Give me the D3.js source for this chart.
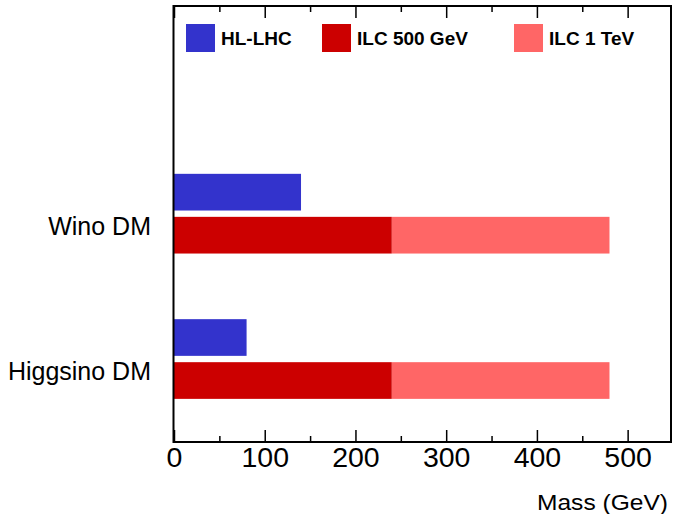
<!DOCTYPE html>
<html><head><meta charset="utf-8">
<script src="https://cdn.jsdelivr.net/npm/d3@7"></script>
<style>body{margin:0;background:#fff}svg{display:block}text{font-family:"Liberation Sans",Arial,Helvetica,sans-serif}</style>
</head><body><div id="chart"></div>
<script>
const categories = ["Wino DM", "Higgsino DM"];
const hlLhc = [140, 80];
const ilc500 = [240, 240];
const ilc1TeV = [480, 480];
const seriesNames = ["HL-LHC", "ILC 500 GeV", "ILC 1 TeV"];
const colors = ["#3333cc", "#cc0000", "#ff6666"];
const majorTicks = [0, 100, 200, 300, 400, 500];
const minorTicks = [50, 150, 250, 350, 450];
const xTitle = "Mass (GeV)";

const W = 673, H = 514;
const L = 174, R = 673, T = 6, B = 442;
const svg = d3.select("#chart").append("svg").attr("width", W).attr("height", H);

const x = d3.scaleLinear().domain([0, 550]).range([L, R]);
const y = d3.scaleBand().domain(["", ...categories]).range([T, B]);
const inner = d3.scaleBand().domain(["HL-LHC", "ILC"]).range([22.5, 102.2]).paddingInner(0.147);

const g = svg.append("g");
categories.forEach((c, i) => {
  const y0 = y(c);
  g.append("rect").attr("x", x(0)).attr("y", y0 + inner("HL-LHC"))
    .attr("width", x(hlLhc[i]) - x(0)).attr("height", inner.bandwidth()).attr("fill", colors[0]);
  g.append("rect").attr("x", x(ilc500[i])).attr("y", y0 + inner("ILC"))
    .attr("width", x(ilc1TeV[i]) - x(ilc500[i])).attr("height", inner.bandwidth()).attr("fill", colors[2]);
  g.append("rect").attr("x", x(0)).attr("y", y0 + inner("ILC"))
    .attr("width", x(ilc500[i]) - x(0)).attr("height", inner.bandwidth()).attr("fill", colors[1]);
  svg.append("text").attr("x", 151).attr("y", y0 + 83.5)
    .attr("text-anchor", "end").attr("font-size", 25).attr("fill", "#000").text(c);
});

// bottom axis (ticks inward)
const botAxis = svg.append("g").attr("transform", `translate(0,${B})`);
botAxis.call(d3.axisBottom(x).tickValues(majorTicks).tickSize(-12).tickPadding(5).tickFormat(d3.format("d")));
botAxis.append("g").call(d3.axisBottom(x).tickValues(minorTicks).tickSize(-6).tickFormat(""));
botAxis.selectAll(".domain").remove();
botAxis.selectAll("line").attr("stroke", "#000").attr("stroke-width", 1.5);
botAxis.selectAll("text").attr("font-size", 28.5).attr("fill", "#000")
  .style("font-family", "'Liberation Sans',Arial,sans-serif");

// top axis (ticks inward)
const topAxis = svg.append("g").attr("transform", `translate(0,${T})`);
topAxis.call(d3.axisTop(x).tickValues(majorTicks).tickSize(-12).tickFormat(""));
topAxis.append("g").call(d3.axisTop(x).tickValues(minorTicks).tickSize(-6).tickFormat(""));
topAxis.selectAll(".domain").remove();
topAxis.selectAll("line").attr("stroke", "#000").attr("stroke-width", 1.5);

// frame
svg.append("rect").attr("x", L - 0.5).attr("y", T).attr("width", R - L - 1.5).attr("height", B - T)
  .attr("fill", "none").attr("stroke", "#000").attr("stroke-width", 2);

svg.append("text").attr("x", 668).attr("y", 510).attr("text-anchor", "end")
  .attr("font-size", 21.5).attr("textLength", 131).attr("lengthAdjust", "spacingAndGlyphs")
  .attr("fill", "#000").text(xTitle);

// legend
const legX = [186, 322, 514];
seriesNames.forEach((n, i) => {
  svg.append("rect").attr("x", legX[i]).attr("y", 24).attr("width", 29).attr("height", 28).attr("fill", colors[i]);
  svg.append("text").attr("x", legX[i] + 35).attr("y", 38).attr("dy", "0.36em")
    .attr("font-size", 19).attr("font-weight", "bold").attr("fill", "#000").text(n);
});
</script></body></html>
